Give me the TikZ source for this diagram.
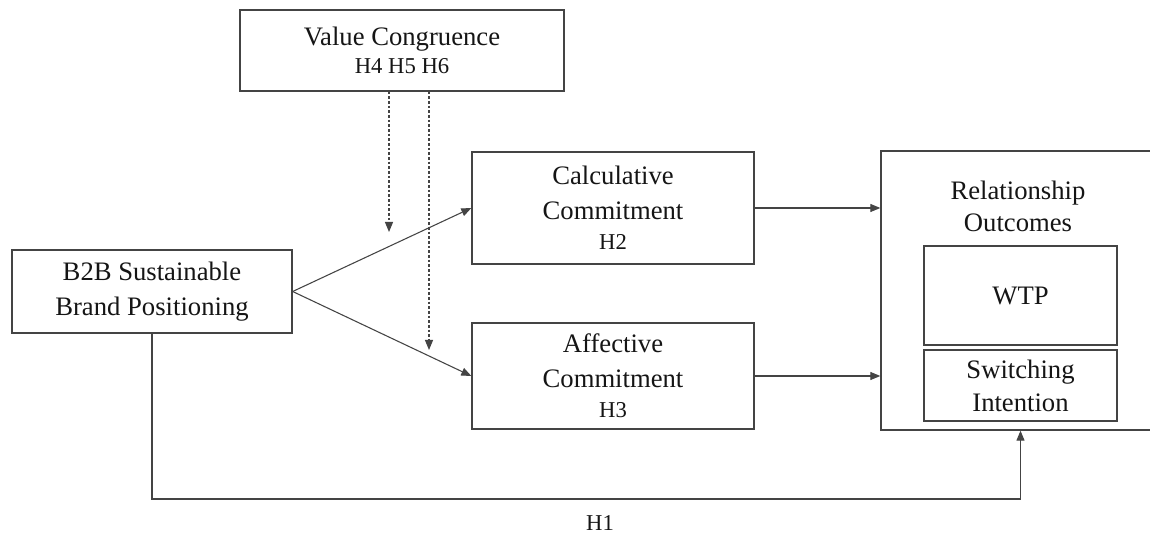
\documentclass[tikz,border=0pt]{standalone}
\usepackage{fontspec}
\setmainfont{Liberation Serif}
\usetikzlibrary{arrows.meta,calc}
\definecolor{lc}{HTML}{444444}
\definecolor{tc}{HTML}{151515}
\begin{document}
\begin{tikzpicture}[x=0.75pt,y=-0.75pt,
  box/.style={draw=lc,line width=1pt,rectangle,inner sep=0pt,align=center,text=tc,
    font=\fontsize{20}{26.25}\selectfont},
  arr/.style={draw=lc,line width=0.8pt,-{Triangle[length=7.5pt,width=6pt]}},
  dasharr/.style={draw=lc,line width=0.8pt,dash pattern=on 2pt off 1.5pt,-{Triangle[length=7.5pt,width=6pt]}},
  lbl/.style={text=tc,font=\fontsize{17}{21}\selectfont,inner sep=0pt}]
\useasboundingbox (0,0) rectangle (1150,534);
\clip (0,0) rectangle (1150,534);
\fill[white] (0,0) rectangle (1150,534);

\node[box,minimum width={324*0.75pt},minimum height={81*0.75pt}] (vc) at (402,50.5)
  {Value Congruence\\[-5pt]{\fontsize{17}{21}\selectfont H4 H5 H6}};
\node[box,minimum width={282*0.75pt},minimum height={112*0.75pt}] (calc) at (613,208)
  {Calculative\\Commitment\\[-4pt]{\fontsize{17}{21}\selectfont H2}};
\node[box,minimum width={282*0.75pt},minimum height={106*0.75pt}] (aff) at (613,376)
  {Affective\\Commitment\\[-4pt]{\fontsize{17}{21}\selectfont H3}};
\node[box,minimum width={280*0.75pt},minimum height={83*0.75pt}] (b2b) at (152,291.5)
  {B2B Sustainable\\Brand Positioning};
\node[box,minimum width={279*0.75pt},minimum height={279*0.75pt}] (ro) at (1020.5,290.5) {};
\node[box,draw=none,font=\fontsize{20}{24}\selectfont] (rotitle) at (1018,206) {Relationship\\Outcomes};
\node[box,minimum width={193*0.75pt},minimum height={99*0.75pt}] (wtp) at (1020.5,295.5) {WTP};
\node[box,minimum width={193*0.75pt},minimum height={71*0.75pt},font=\fontsize{20}{24.75}\selectfont] (sw) at (1020.5,385.5)
  {Switching\\Intention};

% main arrows
\draw[arr] (b2b.east) -- (calc.west);
\draw[arr] (b2b.east) -- (aff.west);
\draw[arr] (calc.east) -- (calc.east -| ro.west);
\draw[arr] (aff.east) -- (aff.east -| ro.west);

% moderation (dashed)
\coordinate (m1) at (389,232);
\coordinate (m2) at (429,350);
\draw[dasharr] (vc.south -| m1) -- (m1);
\draw[dasharr] (vc.south -| m2) -- (m2);

% H1 path
\coordinate (h1c) at (1020.5,499);
\draw[arr] (b2b.south) |- (h1c) -- (ro.south);
\node[lbl] (h1) at (600,523) {H1};
\end{tikzpicture}
\end{document}
